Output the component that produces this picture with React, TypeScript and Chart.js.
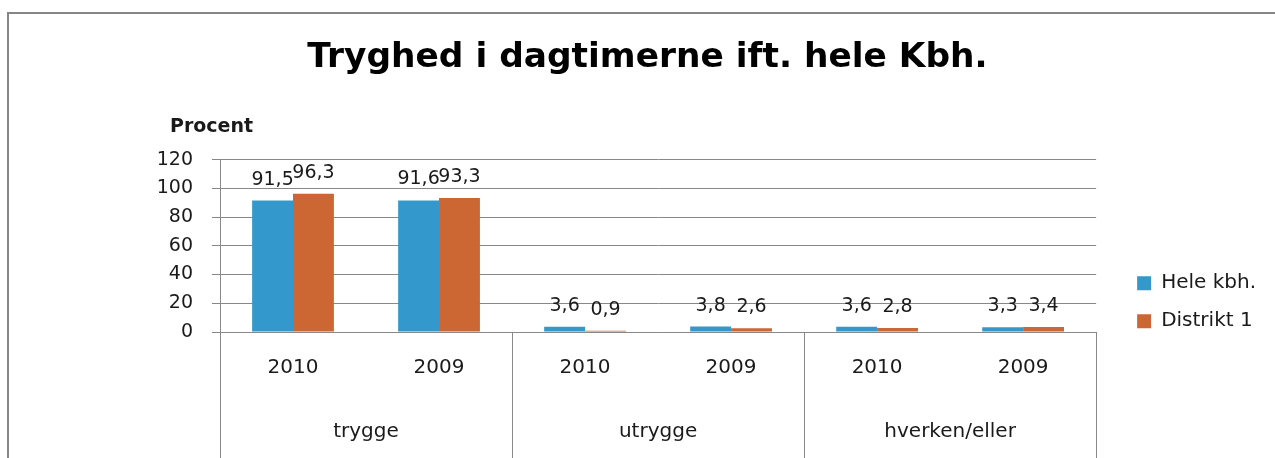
import React, { useEffect, useRef } from 'react';
import { Chart, registerables } from 'chart.js';

Chart.register(...registerables);

const TITLE = 'Tryghed i dagtimerne ift. hele Kbh.';
const Y_LABEL = 'Procent';
const years = ['2010', '2009', '2010', '2009', '2010', '2009'];
const groups = ['trygge', 'utrygge', 'hverken/eller'];
const seriesNames = ['Hele kbh.', 'Distrikt 1'];
const heleKbh = [91.5, 91.6, 3.6, 3.8, 3.6, 3.3];
const distrikt1 = [96.3, 93.3, 0.9, 2.6, 2.8, 3.4];
const seriesColors = ['#3399CC', '#CC6633'];
const yMin = 0;
const yMax = 120;
const yStep = 20;

const FONT = 'DejaVu Sans';
const GRID = '#888888';
const TEXT = '#1a1a1a';

const fmt = (v: number) => v.toFixed(1).replace('.', ',');

const framePlugin = {
  id: 'frame',
  beforeDraw(chart: any) {
    const { ctx, width, height } = chart;
    ctx.save();
    ctx.fillStyle = '#ffffff';
    ctx.fillRect(0, 0, width, height);
    ctx.strokeStyle = '#868686';
    ctx.lineWidth = 2;
    ctx.beginPath();
    ctx.moveTo(8, height + 5);
    ctx.lineTo(8, 13);
    ctx.lineTo(width + 5, 13);
    ctx.stroke();
    ctx.restore();
  },
};

// vertical separators between category groups, below the axis, from the x scale
const groupSeparatorPlugin = {
  id: 'groupSeparators',
  afterDraw(chart: any) {
    const { ctx } = chart;
    const xs = chart.scales.x;
    const n = years.length;
    const per = n / groups.length;
    const half = (xs.getPixelForValue(1) - xs.getPixelForValue(0)) / 2;
    ctx.save();
    ctx.strokeStyle = GRID;
    ctx.lineWidth = 1;
    for (let g = 0; g <= groups.length; g++) {
      const idx = g * per;
      const px = idx < n ? xs.getPixelForValue(idx) - half : xs.getPixelForValue(n - 1) + half;
      const x = Math.round(px) + 0.5;
      ctx.beginPath();
      ctx.moveTo(x, xs.top);
      ctx.lineTo(x, chart.height);
      ctx.stroke();
    }
    ctx.restore();
  },
};

const procentPlugin = {
  id: 'procent',
  afterDraw(chart: any) {
    const { ctx, chartArea } = chart;
    ctx.save();
    ctx.font = `bold 19px "${FONT}"`;
    ctx.fillStyle = TEXT;
    ctx.textAlign = 'left';
    ctx.textBaseline = 'middle';
    ctx.fillText(Y_LABEL, chartArea.left - 50, chartArea.top - 33);
    ctx.restore();
  },
};

const valueLabelPlugin = {
  id: 'valueLabels',
  afterDatasetsDraw(chart: any) {
    const { ctx } = chart;
    ctx.save();
    ctx.font = `19px "${FONT}"`;
    ctx.fillStyle = TEXT;
    ctx.textAlign = 'center';
    ctx.textBaseline = 'alphabetic';
    chart.data.datasets.forEach((ds: any, di: number) => {
      const meta = chart.getDatasetMeta(di);
      meta.data.forEach((el: any, i: number) => {
        ctx.fillText(fmt(ds.data[i]), el.x, el.y - 16);
      });
    });
    ctx.restore();
  },
};

export default function App() {
  const ref = useRef<HTMLCanvasElement | null>(null);

  useEffect(() => {
    if (!ref.current) return;
    const chart = new Chart(ref.current, {
      type: 'bar',
      data: {
        labels: years,
        datasets: [
          {
            label: seriesNames[0],
            data: heleKbh,
            backgroundColor: seriesColors[0],
            borderWidth: 0,
            categoryPercentage: 0.56,
            barPercentage: 1,
            xAxisID: 'x',
            yAxisID: 'y',
          },
          {
            label: seriesNames[1],
            data: distrikt1,
            backgroundColor: seriesColors[1],
            borderWidth: 0,
            categoryPercentage: 0.56,
            barPercentage: 1,
            xAxisID: 'x',
            yAxisID: 'y',
          },
        ],
      },
      options: {
        animation: false,
        responsive: true,
        maintainAspectRatio: false,
        layout: { padding: { left: 29, right: 9, top: 0, bottom: -2 } },
        plugins: {
          title: {
            display: true,
            text: TITLE,
            color: '#000',
            font: { family: FONT, size: 34.4, weight: 'bold' },
            padding: { top: 37.3, bottom: 81 },
          },
          legend: {
            display: true,
            position: 'right',
            align: 'center',
            title: { display: true, text: '', font: { size: 12 }, padding: { top: 130, bottom: 0 } },
            labels: {
              boxWidth: 14,
              boxHeight: 14,
              padding: 18,
              color: TEXT,
              font: { family: FONT, size: 20 },
            },
          },
          tooltip: { enabled: false },
        },
        scales: {
          x: {
            type: 'category',
            position: 'bottom',
            offset: true,
            weight: 0,
            grid: { display: false, drawTicks: false },
            border: { display: true, color: GRID },
            ticks: {
              color: TEXT,
              font: { family: FONT, size: 20, lineHeight: 1 },
              padding: 26,
              maxRotation: 0,
              autoSkip: false,
            },
          },
          x2: {
            type: 'category',
            labels: groups,
            position: 'bottom',
            offset: true,
            weight: 1,
            grid: { display: false, drawTicks: false },
            border: { display: false },
            ticks: {
              color: TEXT,
              font: { family: FONT, size: 20, lineHeight: 1 },
              padding: 18,
              maxRotation: 0,
              autoSkip: false,
            },
          },
          y: {
            type: 'linear',
            position: 'left',
            min: yMin,
            max: yMax,
            grid: { color: GRID, tickLength: 8, drawTicks: true, lineWidth: 1 },
            border: { display: true, color: GRID },
            ticks: {
              stepSize: yStep,
              color: TEXT,
              padding: 19,
              font: { family: FONT, size: 19 },
            },
            afterFit: (scale: any) => {
              scale.width = 191;
            },
          },
          ySpacer: {
            type: 'linear',
            position: 'right',
            display: true,
            grid: { display: false, drawTicks: false },
            border: { display: false },
            ticks: { display: false },
            afterFit: (scale: any) => {
              scale.width = 23;
            },
          },
        },
      },
      plugins: [framePlugin, groupSeparatorPlugin, procentPlugin, valueLabelPlugin],
    } as any);
    return () => chart.destroy();
  }, []);

  return (
    <div style={{ position: 'absolute', left: 0, top: 0, width: 1275, height: 458 }}>
      <canvas ref={ref} />
    </div>
  );
}
